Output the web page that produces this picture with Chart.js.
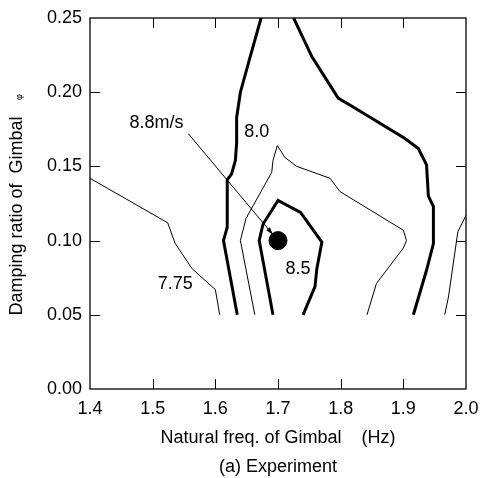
<!DOCTYPE html>
<html>
<head>
<meta charset="utf-8">
<script src="https://cdn.jsdelivr.net/npm/chart.js@4/dist/chart.umd.min.js"></script>
<style>
  html, body { margin: 0; padding: 0; background: #fff; }
</style>
</head>
<body>
<canvas id="chart" width="483" height="478"></canvas>
<script>
// Contour lines of flight speed (m/s), points are [natural freq (Hz), damping ratio]
const c775Left = [[1.400, 0.142], [1.524, 0.112], [1.536, 0.098], [1.563, 0.081], [1.600, 0.067], [1.607, 0.050]];
const c775Right = [[2.000, 0.117], [1.987, 0.106], [1.972, 0.062], [1.966, 0.050]];
const c80Left = [[1.635, 0.050], [1.613, 0.100], [1.619, 0.109], [1.619, 0.141], [1.626, 0.145], [1.632, 0.154],
  [1.634, 0.166], [1.634, 0.183], [1.640, 0.200], [1.655, 0.223], [1.673, 0.250]];
const c80Right = [[1.725, 0.250], [1.754, 0.224], [1.796, 0.196], [1.820, 0.190], [1.902, 0.169], [1.924, 0.162],
  [1.937, 0.151], [1.940, 0.130], [1.948, 0.123], [1.948, 0.098], [1.937, 0.080], [1.916, 0.050]];
const c825 = [[1.663, 0.050], [1.640, 0.100], [1.649, 0.115], [1.690, 0.146], [1.692, 0.154], [1.699, 0.164],
  [1.711, 0.156], [1.730, 0.150], [1.783, 0.142], [1.799, 0.133], [1.900, 0.107], [1.905, 0.100],
  [1.900, 0.095], [1.857, 0.071], [1.842, 0.050]];
const c85 = [[1.692, 0.050], [1.670, 0.100], [1.676, 0.111], [1.700, 0.127], [1.736, 0.119], [1.770, 0.099],
  [1.762, 0.081], [1.759, 0.069], [1.740, 0.050]];

// Maximum speed point
const peak = [[1.70, 0.10]];

// Tick range
const freqRange = [1.4, 2.0];
const dampRange = [0.0, 0.25];

// Text labels [text, freq, damping]
const labels = [["8.8m/s", 1.506, 0.179], ["8.0", 1.666, 0.173], ["8.5", 1.732, 0.081], ["7.75", 1.536, 0.071]];
const arrowFrom = [1.557, 0.172];
const arrowTo = [1.692, 0.104];

const FONT = '"Liberation Sans", Arial, sans-serif';

function toXY(arr) {
  return arr.map(p => ({ x: p[0], y: p[1] }));
}

function lineSet(arr, width) {
  return {
    data: toXY(arr),
    showLine: true,
    borderColor: "#000",
    borderWidth: width,
    pointRadius: 0,
    tension: 0,
    fill: false,
  };
}

// Draws frame, inward ticks, arrow, labels and y title
const overlay = {
  id: "overlay",
  afterDatasetsDraw(chart) {
    const { ctx, chartArea: a, scales: { x, y } } = chart;
    ctx.save();
    ctx.strokeStyle = "#000";

    ctx.lineWidth = 1.3;
    ctx.strokeRect(a.left, a.top, a.right - a.left, a.bottom - a.top);

    ctx.lineWidth = 1;
    ctx.beginPath();
    x.ticks.forEach(t => {
      if (t.value <= x.min + 1e-6 || t.value >= x.max - 1e-6) return;
      const px = Math.round(x.getPixelForValue(t.value)) + 0.5;
      ctx.moveTo(px, a.bottom); ctx.lineTo(px, a.bottom - 10);
      ctx.moveTo(px, a.top); ctx.lineTo(px, a.top + 10);
    });
    y.ticks.forEach(t => {
      if (t.value <= y.min + 1e-6 || t.value >= y.max - 1e-6) return;
      const py = Math.round(y.getPixelForValue(t.value)) + 0.5;
      ctx.moveTo(a.left, py); ctx.lineTo(a.left + 10, py);
      ctx.moveTo(a.right, py); ctx.lineTo(a.right - 10, py);
    });
    ctx.stroke();

    // arrow to the peak
    const x0 = x.getPixelForValue(arrowFrom[0]), y0 = y.getPixelForValue(arrowFrom[1]);
    const x1 = x.getPixelForValue(arrowTo[0]), y1 = y.getPixelForValue(arrowTo[1]);
    const ang = Math.atan2(y1 - y0, x1 - x0);
    ctx.beginPath();
    ctx.moveTo(x0, y0); ctx.lineTo(x1, y1);
    ctx.stroke();
    ctx.beginPath();
    ctx.moveTo(x1, y1);
    ctx.lineTo(x1 - 8 * Math.cos(ang - 0.3), y1 - 8 * Math.sin(ang - 0.3));
    ctx.lineTo(x1 - 8 * Math.cos(ang + 0.3), y1 - 8 * Math.sin(ang + 0.3));
    ctx.closePath();
    ctx.fillStyle = "#000";
    ctx.fill();

    // contour labels
    ctx.font = "18px " + FONT;
    ctx.textAlign = "center";
    ctx.textBaseline = "middle";
    ctx.fillStyle = "#000";
    labels.forEach(l => ctx.fillText(l[0], x.getPixelForValue(l[1]), y.getPixelForValue(l[2])));

    // y axis title
    ctx.translate(17, 216);
    ctx.rotate(-Math.PI / 2);
    ctx.fillText("Damping ratio of  Gimbal", 0, 0);
    ctx.font = "9px " + FONT;
    ctx.fillText("φ", 119, 3);
    ctx.restore();
  },
};

new Chart(document.getElementById("chart"), {
  type: "scatter",
  data: {
    datasets: [
      lineSet(c775Left, 1),
      lineSet(c775Right, 1),
      lineSet(c825, 1),
      lineSet(c80Left, 3),
      lineSet(c80Right, 3),
      lineSet(c85, 3),
      {
        data: toXY(peak),
        pointRadius: 9,
        pointBackgroundColor: "#000",
        pointBorderColor: "#000",
        showLine: false,
      },
    ],
  },
  options: {
    responsive: false,
    animation: false,
    layout: { padding: { top: 18, right: 17, bottom: 0, left: 0 } },
    plugins: { legend: { display: false }, tooltip: { enabled: false } },
    scales: {
      x: {
        type: "linear",
        min: freqRange[0],
        max: freqRange[1],
        grid: { display: false, drawTicks: false },
        border: { display: false },
        ticks: {
          stepSize: 0.1,
          padding: 9,
          color: "#000",
          font: { family: FONT, size: 18 },
          callback: v => v.toFixed(1),
        },
        title: {
          display: true,
          text: ["Natural freq. of Gimbal    (Hz)", "(a) Experiment"],
          color: "#000",
          font: { family: FONT, size: 18, lineHeight: 1.6 },
          padding: { top: 0, bottom: -3 },
        },
        afterFit: s => { s.height = 89; s.paddingLeft = 0; s.paddingRight = 0; },
      },
      y: {
        type: "linear",
        min: dampRange[0],
        max: dampRange[1],
        grid: { display: false, drawTicks: false },
        border: { display: false },
        ticks: {
          stepSize: 0.05,
          padding: 8,
          color: "#000",
          font: { family: FONT, size: 18 },
          callback: v => v.toFixed(2),
        },
        afterFit: s => { s.width = 90; s.paddingTop = 0; s.paddingBottom = 0; },
      },
    },
  },
  plugins: [overlay],
});
</script>
</body>
</html>
